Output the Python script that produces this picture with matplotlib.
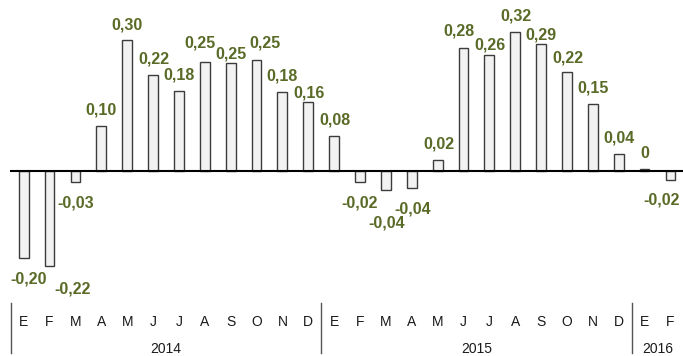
import matplotlib
matplotlib.use('Agg')
import matplotlib.pyplot as plt
import matplotlib.transforms as mtransforms

plt.rcParams['font.family'] = ['Liberation Sans', 'DejaVu Sans']

# datos >>>>>>>>>>>>>>>>>>>>>>>>>>>>>>>>>>>>>>>>>>>>>>>>>>>>>>>>>>>>>>>>>>
months = ['E', 'F', 'M', 'A', 'M', 'J', 'J', 'A', 'S', 'O', 'N', 'D',
          'E', 'F', 'M', 'A', 'M', 'J', 'J', 'A', 'S', 'O', 'N', 'D',
          'E', 'F']
years = ['2014', '2015', '2016']
year_counts = [12, 12, 2]
values = [-0.201, -0.220, -0.027, 0.103, 0.300, 0.220, 0.184, 0.249, 0.247, 0.254, 0.182, 0.159,
          0.080, -0.027, -0.044, -0.039, 0.024, 0.283, 0.267, 0.319, 0.291, 0.226, 0.153, 0.039,
          0.005, -0.021]
value_labels = ['-0,20', '-0,22', '-0,03', '0,10', '0,30', '0,22', '0,18', '0,25', '0,25', '0,25', '0,18', '0,16',
                '0,08', '-0,02', '-0,04', '-0,04', '0,02', '0,28', '0,26', '0,32', '0,29', '0,22', '0,15', '0,04',
                '0', '-0,02']

# posicion de etiquetas (px): dx, distancia desde el extremo de la barra
label_offsets = [(5, 20), (23, 21.5), (0, 19.5), (0, 16.7), (0, 16), (1, 17.5), (0, 16.7), (-5, 20.6),
                 (0, 10.6), (8, 18.6), (0, 17), (1, 9.7),
                 (1, 17), (0, 19.4), (0.5, 32.3), (0.5, 20.6), (1, 17.8), (-4.5, 17.7), (1, 10.3),
                 (1, 17.5), (0, 10.3), (1, 15.8), (0, 17), (0, 16.7),
                 (0, 16.3), (-9, 19)]

GREEN = '#5a6b28'
W, H = 683, 356

fig = plt.figure(figsize=(W / 100, H / 100), dpi=100)
ax = fig.add_axes([10 / W, (H - 300) / H, 1 - 10 / W, 300 / H])

x = list(range(len(values)))
ax.bar(x, values, width=0.38, color='#f2f2f2', edgecolor='#3c3c3c', linewidth=1.0, zorder=2)
ax.axhline(0, color='black', linewidth=1.5, zorder=3)

ax.set_xlim(-0.53, 25.485)
ax.set_ylim(-(300 - 170.7) / 435, 170.7 / 435)
ax.axis('off')

for xi, v, lab, (dx, d) in zip(x, values, value_labels, label_offsets):
    dy = d - 5.7 if v >= 0 else -d - 5.7
    ax.annotate(lab, (xi, v), xytext=(dx, dy), textcoords='offset pixels',
                ha='center', va='baseline', fontsize=11.5, fontweight='bold',
                color=GREEN, annotation_clip=False)

# eje de meses y años
trans = mtransforms.blended_transform_factory(ax.transData, fig.transFigure)
for xi, m in zip(x, months):
    ax.text(xi, (H - 326) / H, m, transform=trans, ha='center', va='baseline',
            fontsize=10, color='#1a1a1a')

start = 0
for yr, n in zip(years, year_counts):
    ax.plot([start - 0.5, start - 0.5], [(H - 303) / H, (H - 353) / H], transform=trans,
            color='#555555', linewidth=1.0, clip_on=False)
    ax.text(start + (n - 1) / 2, (H - 353) / H, yr, transform=trans, ha='center',
            va='baseline', fontsize=10, color='#1a1a1a')
    start += n

fig.savefig('out.png', dpi=100)
